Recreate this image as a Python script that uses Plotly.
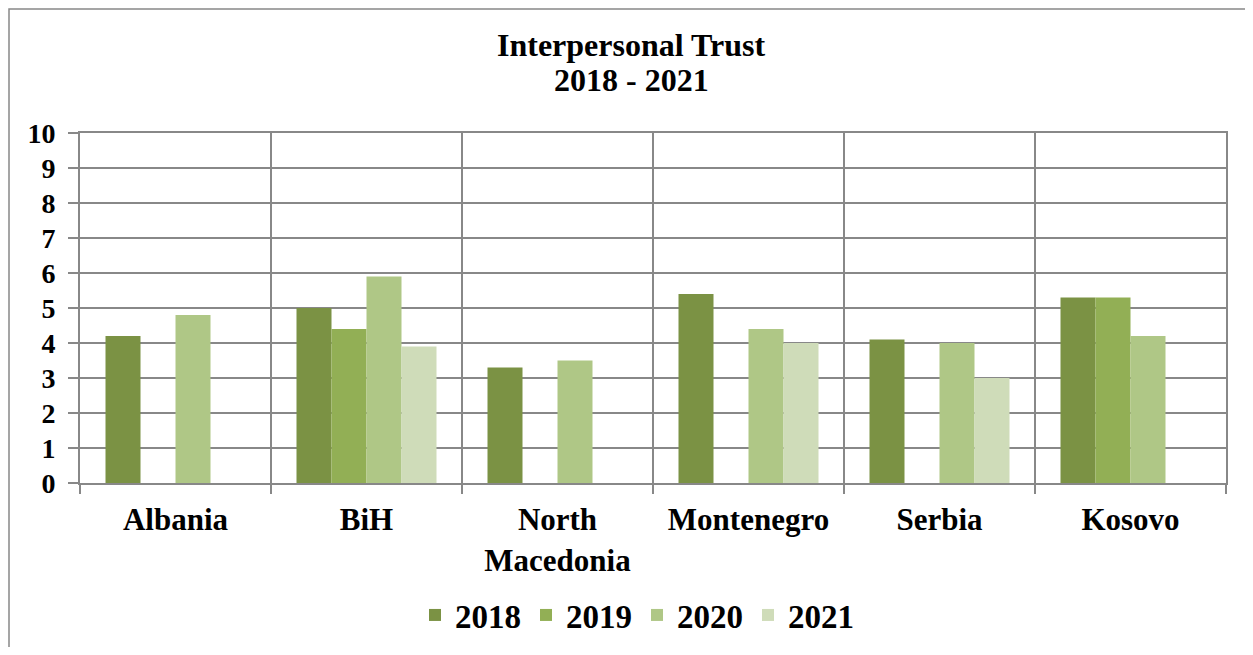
import plotly.graph_objects as go

countries = ["Albania", "BiH", "North<br>Macedonia", "Montenegro", "Serbia", "Kosovo"]
years = ["2018", "2019", "2020", "2021"]
v2018 = [4.2, 5.0, 3.3, 5.4, 4.1, 5.3]
v2019 = [None, 4.4, None, None, None, 5.3]
v2020 = [4.8, 5.9, 3.5, 4.4, 4.0, 4.2]
v2021 = [None, 3.9, None, 4.0, 3.0, None]
series = [v2018, v2019, v2020, v2021]
colors = ["#7B9244", "#92AF55", "#AFC786", "#CFDCB9"]
title_lines = ["Interpersonal Trust", "2018 - 2021"]

FONT = "Liberation Serif, Times New Roman, serif"

fig = go.Figure()
for y, vals, c in zip(years, series, colors):
    fig.add_trace(go.Bar(name=y, x=countries, y=vals, marker=dict(color=c, line=dict(width=0))))

# page has an 8px body margin; compensate so the plot area lands at page 80..1226 x 133..483
OFF = 8
W, H = 1253 - 2 * OFF, 655 - 2 * OFF
L, T = 80 - OFF, 133 - OFF
pw, ph = 1146, 350
R, B = W - L - pw, H - T - ph

def page_y(py):
    return 1 - (py - OFF) / H

fig.update_layout(
    width=W, height=H,
    margin=dict(l=L, r=R, t=T, b=B, autoexpand=False),
    paper_bgcolor="white", plot_bgcolor="white",
    barmode="group", bargap=0.267, bargroupgap=0,
    font=dict(family=FONT, color="black"),
    legend=dict(orientation="h", x=(637 - 80) / pw, xanchor="center",
                y=page_y(615), yref="container", yanchor="middle",
                font=dict(size=33, family=FONT, weight="bold"), itemwidth=30, tracegroupgap=0),
    showlegend=True,
)
for text, py in zip(title_lines, [45, 80]):
    fig.add_annotation(text="<b>" + text + "</b>", xref="paper", yref="paper",
                       x=(631 - 80) / pw, y=(483 - py) / ph, showarrow=False,
                       xanchor="center", yanchor="middle", font=dict(size=32, family=FONT))
fig.update_xaxes(
    tickson="boundaries", ticks="outside", ticklen=9, tickcolor="#888888", tickwidth=2,
    showgrid=True, gridcolor="#888888", gridwidth=2,
    showline=True, linecolor="#888888", linewidth=2, mirror=True, automargin=False,
    tickfont=dict(size=31, family=FONT, weight="bold"), ticklabelstandoff=8,
)
fig.update_yaxes(
    range=[0, 10], dtick=1, ticks="outside", ticklen=10, tickcolor="#888888", tickwidth=2,
    showgrid=True, gridcolor="#888888", gridwidth=2,
    showline=True, linecolor="#888888", linewidth=2, mirror=True, automargin=False,
    tickfont=dict(size=28, family=FONT, weight="bold"), zeroline=False, ticklabelstandoff=7,
)
fig.add_shape(type="rect", xref="paper", yref="paper",
              x0=(1 - L) / pw, x1=(1246 - OFF - L) / pw, y0=(T + ph - (H + 10)) / ph, y1=(T + ph - 1) / ph,
              line=dict(color="#888888", width=1.5), fillcolor="rgba(0,0,0,0)", layer="below")

fig.write_html("out.html")
